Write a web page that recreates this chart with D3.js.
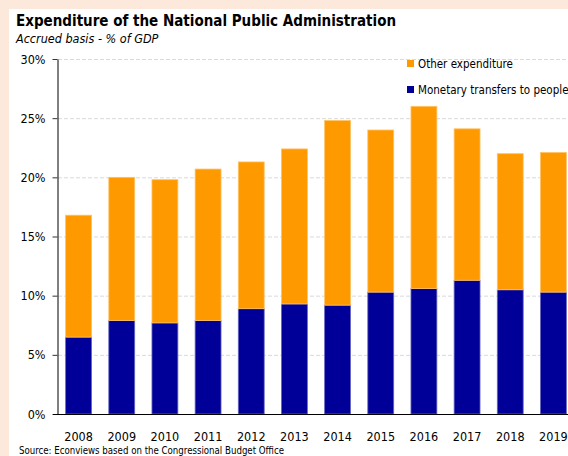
<!DOCTYPE html>
<html><head><meta charset="utf-8">
<script src="https://cdn.jsdelivr.net/npm/d3@7"></script>
<style>
html,body{margin:0;padding:0;background:#fde9dc;}
svg{display:block;}
text{font-family:"DejaVu Sans",Verdana,sans-serif;fill:#000;}
.cond{font-family:"DejaVu Sans Condensed","DejaVu Sans",sans-serif;font-stretch:condensed;}
</style></head><body>
<svg id="c" width="568" height="456"></svg>
<script>
const years = ["2008","2009","2010","2011","2012","2013","2014","2015","2016","2017","2018","2019"];
const transfers = [6.5, 7.9, 7.7, 7.9, 8.9, 9.3, 9.2, 10.3, 10.6, 11.3, 10.5, 10.3];
const totals = [16.8, 20.0, 19.8, 20.7, 21.3, 22.4, 24.8, 24.0, 26.0, 24.1, 22.0, 22.1];
const other = totals.map((t,i)=>+(t - transfers[i]).toFixed(1));
const yTicks = [0,5,10,15,20,25,30];
const seriesNames = ["Monetary transfers to people","Other expenditure"];
const colors = {"Monetary transfers to people":"#000099","Other expenditure":"#ff9900"};

const svg = d3.select("#c");
svg.append("rect").attr("x",9).attr("y",9).attr("width",559).attr("height",447).attr("fill","#fff");

const x = d3.scaleBand().domain(years).range([57,575]).paddingInner(0.4).paddingOuter(0.2);
const y = d3.scaleLinear().domain([0,30]).range([414,59]);

// grid
svg.append("g").selectAll("line").data(yTicks.filter(d=>d>0)).join("line")
  .attr("x1",58).attr("x2",568).attr("y1",d=>y(d)+0.5).attr("y2",d=>y(d)+0.5)
  .attr("stroke","#d9d9d9").attr("stroke-dasharray","4,2");

const rows = years.map((yr,i)=>({year:yr,"Monetary transfers to people":transfers[i],"Other expenditure":other[i]}));
const stack = d3.stack().keys(seriesNames)(rows);
svg.append("g").selectAll("g").data(stack).join("g")
  .attr("fill",d=>colors[d.key])
  .attr("stroke",d=>d.key==="Other expenditure"?"#ffc266":"#6666c2").attr("stroke-width",0.8)
  .selectAll("rect").data(d=>d).join("rect")
  .attr("x",d=>x(d.data.year)).attr("width",x.bandwidth())
  .attr("y",d=>y(d[1])).attr("height",d=>y(d[0])-y(d[1]));

// y axis
const ya = svg.append("g").attr("transform","translate(57.5,0)")
  .call(d3.axisLeft(y).tickValues(yTicks).tickFormat(d=>d+"%").tickSize(5).tickSizeOuter(0));
ya.select(".domain").attr("stroke","#000");
ya.selectAll(".tick line").attr("stroke","#333");
ya.selectAll("text").attr("font-size",12.5).attr("x",-12).attr("fill","#000").attr("font-family",null).attr("class","cond");

// x axis
const xa = svg.append("g").attr("transform","translate(0,414.5)")
  .call(d3.axisBottom(x).tickSize(0).tickSizeOuter(0));
xa.select(".domain").attr("stroke","#000").attr("d","M53,0H568");
xa.selectAll("text").attr("font-size",12.5).attr("dy",0).attr("y",26.5).attr("fill","#000").attr("font-family",null).attr("class","cond");

// legend
const lg = svg.append("g").attr("transform","translate(407,0)");
const leg = [{k:"Other expenditure",y:64},{k:"Monetary transfers to people",y:90}];
leg.forEach(l=>{
  lg.append("rect").attr("x",0).attr("y",l.y-4).attr("width",7).attr("height",7).attr("fill",colors[l.k]);
  lg.append("text").attr("class","cond").attr("x",11).attr("y",l.y+4).attr("font-size",11.5).text(l.k);
});

// titles
svg.append("text").attr("class","cond").attr("x",16).attr("y",26).attr("font-size",15).attr("font-weight","bold").text("Expenditure of the National Public Administration");
svg.append("text").attr("class","cond").attr("x",16).attr("y",43).attr("font-size",12.5).attr("font-style","italic").text("Accrued basis - % of GDP");
svg.append("text").attr("class","cond").attr("x",19).attr("y",454).attr("font-size",9.6).text("Source: Econviews based on the Congressional  Budget Office");
</script>
</body></html>
